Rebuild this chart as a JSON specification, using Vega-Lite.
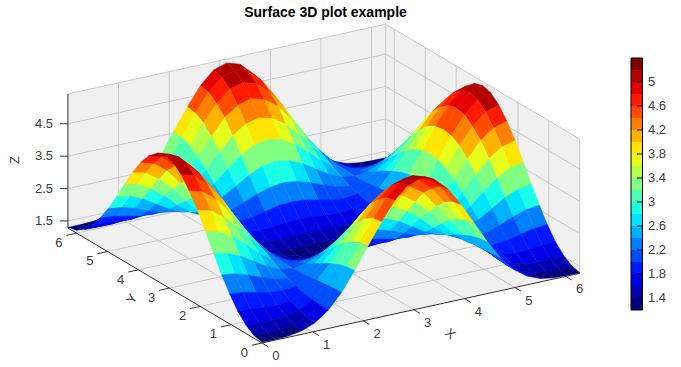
{"$schema":"https://vega.github.io/schema/vega-lite/v6.json","width":681,"height":347,"padding":{"left":0,"right":0,"top":20,"bottom":0},"autosize":"none","background":"white","title":{"text":"Surface 3D plot example","font":"Liberation Sans","fontSize":14,"fontWeight":"bold","color":"black","anchor":"middle","dx":-15,"offset":0},"config":{"view":{"stroke":null}},"datasets":{"walls":[{"p":"f","n":0,"x":0,"y":0,"z":1.28},{"p":"f","n":1,"x":6.28,"y":0,"z":1.28},{"p":"f","n":2,"x":6.28,"y":6.28,"z":1.28},{"p":"f","n":3,"x":0,"y":6.28,"z":1.28},{"p":"b","n":0,"x":0,"y":6.28,"z":1.28},{"p":"b","n":1,"x":6.28,"y":6.28,"z":1.28},{"p":"b","n":2,"x":6.28,"y":6.28,"z":5.42},{"p":"b","n":3,"x":0,"y":6.28,"z":5.42},{"p":"r","n":0,"x":6.28,"y":6.28,"z":1.28},{"p":"r","n":1,"x":6.28,"y":0,"z":1.28},{"p":"r","n":2,"x":6.28,"y":0,"z":5.42},{"p":"r","n":3,"x":6.28,"y":6.28,"z":5.42}],"seg":[{"k":"g","x":1,"y":0,"z":1.28,"x2":1,"y2":6.28,"z2":1.28},{"k":"g","x":2,"y":0,"z":1.28,"x2":2,"y2":6.28,"z2":1.28},{"k":"g","x":3,"y":0,"z":1.28,"x2":3,"y2":6.28,"z2":1.28},{"k":"g","x":4,"y":0,"z":1.28,"x2":4,"y2":6.28,"z2":1.28},{"k":"g","x":5,"y":0,"z":1.28,"x2":5,"y2":6.28,"z2":1.28},{"k":"g","x":6,"y":0,"z":1.28,"x2":6,"y2":6.28,"z2":1.28},{"k":"g","x":0,"y":1,"z":1.28,"x2":6.28,"y2":1,"z2":1.28},{"k":"g","x":0,"y":2,"z":1.28,"x2":6.28,"y2":2,"z2":1.28},{"k":"g","x":0,"y":3,"z":1.28,"x2":6.28,"y2":3,"z2":1.28},{"k":"g","x":0,"y":4,"z":1.28,"x2":6.28,"y2":4,"z2":1.28},{"k":"g","x":0,"y":5,"z":1.28,"x2":6.28,"y2":5,"z2":1.28},{"k":"g","x":0,"y":6,"z":1.28,"x2":6.28,"y2":6,"z2":1.28},{"k":"g","x":1,"y":6.28,"z":1.28,"x2":1,"y2":6.28,"z2":5.42},{"k":"g","x":2,"y":6.28,"z":1.28,"x2":2,"y2":6.28,"z2":5.42},{"k":"g","x":3,"y":6.28,"z":1.28,"x2":3,"y2":6.28,"z2":5.42},{"k":"g","x":4,"y":6.28,"z":1.28,"x2":4,"y2":6.28,"z2":5.42},{"k":"g","x":5,"y":6.28,"z":1.28,"x2":5,"y2":6.28,"z2":5.42},{"k":"g","x":6,"y":6.28,"z":1.28,"x2":6,"y2":6.28,"z2":5.42},{"k":"g","x":6.28,"y":1,"z":1.28,"x2":6.28,"y2":1,"z2":5.42},{"k":"g","x":6.28,"y":2,"z":1.28,"x2":6.28,"y2":2,"z2":5.42},{"k":"g","x":6.28,"y":3,"z":1.28,"x2":6.28,"y2":3,"z2":5.42},{"k":"g","x":6.28,"y":4,"z":1.28,"x2":6.28,"y2":4,"z2":5.42},{"k":"g","x":6.28,"y":5,"z":1.28,"x2":6.28,"y2":5,"z2":5.42},{"k":"g","x":6.28,"y":6,"z":1.28,"x2":6.28,"y2":6,"z2":5.42},{"k":"g","x":0,"y":6.28,"z":1.5,"x2":6.28,"y2":6.28,"z2":1.5},{"k":"g","x":0,"y":6.28,"z":2.5,"x2":6.28,"y2":6.28,"z2":2.5},{"k":"g","x":0,"y":6.28,"z":3.5,"x2":6.28,"y2":6.28,"z2":3.5},{"k":"g","x":0,"y":6.28,"z":4.5,"x2":6.28,"y2":6.28,"z2":4.5},{"k":"g","x":6.28,"y":0,"z":1.5,"x2":6.28,"y2":6.28,"z2":1.5},{"k":"g","x":6.28,"y":0,"z":2.5,"x2":6.28,"y2":6.28,"z2":2.5},{"k":"g","x":6.28,"y":0,"z":3.5,"x2":6.28,"y2":6.28,"z2":3.5},{"k":"g","x":6.28,"y":0,"z":4.5,"x2":6.28,"y2":6.28,"z2":4.5},{"k":"g","x":0,"y":6.28,"z":5.42,"x2":6.28,"y2":6.28,"z2":5.42},{"k":"g","x":6.28,"y":0,"z":5.42,"x2":6.28,"y2":6.28,"z2":5.42},{"k":"g","x":6.28,"y":6.28,"z":1.28,"x2":6.28,"y2":6.28,"z2":5.42},{"k":"g","x":6.28,"y":0,"z":1.28,"x2":6.28,"y2":0,"z2":5.42},{"k":"g","x":6.28,"y":0,"z":1.28,"x2":6.28,"y2":6.28,"z2":1.28},{"k":"g","x":0,"y":6.28,"z":1.28,"x2":6.28,"y2":6.28,"z2":1.28},{"k":"a","x":0,"y":0,"z":1.28,"x2":6.28,"y2":0,"z2":1.28},{"k":"a","x":0,"y":0,"z":1.28,"x2":0,"y2":6.28,"z2":1.28},{"k":"a","x":0,"y":6.28,"z":1.28,"x2":0,"y2":6.28,"z2":5.42},{"k":"a","x":0,"y":0,"z":1.28,"x2":0,"y2":-0.2,"z2":1.28},{"k":"a","x":1,"y":0,"z":1.28,"x2":1,"y2":-0.2,"z2":1.28},{"k":"a","x":2,"y":0,"z":1.28,"x2":2,"y2":-0.2,"z2":1.28},{"k":"a","x":3,"y":0,"z":1.28,"x2":3,"y2":-0.2,"z2":1.28},{"k":"a","x":4,"y":0,"z":1.28,"x2":4,"y2":-0.2,"z2":1.28},{"k":"a","x":5,"y":0,"z":1.28,"x2":5,"y2":-0.2,"z2":1.28},{"k":"a","x":6,"y":0,"z":1.28,"x2":6,"y2":-0.2,"z2":1.28},{"k":"a","x":0,"y":0,"z":1.28,"x2":-0.2,"y2":0,"z2":1.28},{"k":"a","x":0,"y":1,"z":1.28,"x2":-0.2,"y2":1,"z2":1.28},{"k":"a","x":0,"y":2,"z":1.28,"x2":-0.2,"y2":2,"z2":1.28},{"k":"a","x":0,"y":3,"z":1.28,"x2":-0.2,"y2":3,"z2":1.28},{"k":"a","x":0,"y":4,"z":1.28,"x2":-0.2,"y2":4,"z2":1.28},{"k":"a","x":0,"y":5,"z":1.28,"x2":-0.2,"y2":5,"z2":1.28},{"k":"a","x":0,"y":6,"z":1.28,"x2":-0.2,"y2":6,"z2":1.28},{"k":"a","x":0,"y":6.28,"z":1.5,"x2":-0.115,"y2":6.35,"z2":1.5},{"k":"a","x":0,"y":6.28,"z":2.5,"x2":-0.115,"y2":6.35,"z2":2.5},{"k":"a","x":0,"y":6.28,"z":3.5,"x2":-0.115,"y2":6.35,"z2":3.5},{"k":"a","x":0,"y":6.28,"z":4.5,"x2":-0.115,"y2":6.35,"z2":4.5}],"labels":[{"t":"0","x":0,"y":-0.45,"z":1.13},{"t":"1","x":1,"y":-0.45,"z":1.13},{"t":"2","x":2,"y":-0.45,"z":1.13},{"t":"3","x":3,"y":-0.45,"z":1.13},{"t":"4","x":4,"y":-0.45,"z":1.13},{"t":"5","x":5,"y":-0.45,"z":1.13},{"t":"6","x":6,"y":-0.45,"z":1.13},{"t":"0","x":-0.35,"y":0,"z":1.1},{"t":"1","x":-0.35,"y":1,"z":1.1},{"t":"2","x":-0.35,"y":2,"z":1.1},{"t":"3","x":-0.35,"y":3,"z":1.1},{"t":"4","x":-0.35,"y":4,"z":1.1},{"t":"5","x":-0.35,"y":5,"z":1.1},{"t":"6","x":-0.35,"y":6,"z":1.1},{"t":"1.5","x":-0.345,"y":6.49,"z":1.5},{"t":"2.5","x":-0.345,"y":6.49,"z":2.5},{"t":"3.5","x":-0.345,"y":6.49,"z":3.5},{"t":"4.5","x":-0.345,"y":6.49,"z":4.5}],"titles":[{"t":"X","x":2.93,"y":-1.29,"z":1.28,"a":40},{"t":"Y","x":-0.8,"y":2.89,"z":1.28,"a":-60},{"t":"Z","x":-1.05,"y":6.28,"z":3.74,"a":-90}],"bands":[{"lo":1.2,"hi":1.4,"z":1.3},{"lo":1.4,"hi":1.6,"z":1.5},{"lo":1.6,"hi":1.8,"z":1.7},{"lo":1.8,"hi":2.0,"z":1.9},{"lo":2.0,"hi":2.2,"z":2.1},{"lo":2.2,"hi":2.4,"z":2.3},{"lo":2.4,"hi":2.6,"z":2.5},{"lo":2.6,"hi":2.8,"z":2.7},{"lo":2.8,"hi":3.0,"z":2.9},{"lo":3.0,"hi":3.2,"z":3.1},{"lo":3.2,"hi":3.4,"z":3.3},{"lo":3.4,"hi":3.6,"z":3.5},{"lo":3.6,"hi":3.8,"z":3.7},{"lo":3.8,"hi":4.0,"z":3.9},{"lo":4.0,"hi":4.2,"z":4.1},{"lo":4.2,"hi":4.4,"z":4.3},{"lo":4.4,"hi":4.6,"z":4.5},{"lo":4.6,"hi":4.8,"z":4.7},{"lo":4.8,"hi":5.0,"z":4.9},{"lo":5.0,"hi":5.2,"z":5.1},{"lo":5.2,"hi":5.4,"z":5.3}],"barticks":[{"z":1.4,"t":"1.4"},{"z":1.8,"t":"1.8"},{"z":2.2,"t":"2.2"},{"z":2.6,"t":"2.6"},{"z":3,"t":"3"},{"z":3.4,"t":"3.4"},{"z":3.8,"t":"3.8"},{"z":4.2,"t":"4.2"},{"z":4.6,"t":"4.6"},{"z":5,"t":"5"}],"surf":[
{"x":6.28,"y":6.28,"z":1.3},{"x":6.28,"y":6.02,"z":1.36},{"x":6.28,"y":5.76,"z":1.53},{"x":6.28,"y":5.5,"z":1.81},{"x":6.28,"y":5.24,"z":2.19},{"x":6.28,"y":4.97,"z":2.64},{"x":6.28,"y":4.71,"z":3.15},{"x":6.28,"y":4.45,"z":3.68},{"x":6.28,"y":4.19,"z":4.19},{"x":6.28,"y":3.93,"z":4.64},{"x":6.28,"y":3.67,"z":4.99},{"x":6.28,"y":3.4,"z":5.22},{"x":6.28,"y":3.14,"z":5.3},{"x":6.28,"y":2.88,"z":5.22},{"x":6.28,"y":2.62,"z":4.99},{"x":6.28,"y":2.36,"z":4.64},{"x":6.28,"y":2.09,"z":4.19},{"x":6.28,"y":1.83,"z":3.68},{"x":6.28,"y":1.57,"z":3.15},{"x":6.28,"y":1.31,"z":2.64},{"x":6.28,"y":1.05,"z":2.19},{"x":6.28,"y":0.79,"z":1.81},{"x":6.28,"y":0.52,"z":1.53},{"x":6.28,"y":0.26,"z":1.36},{"x":6.28,"y":0,"z":1.3},
{"x":6.02,"y":6.28,"z":1.3},{"x":6.02,"y":6.02,"z":1.36},{"x":6.02,"y":5.76,"z":1.52},{"x":6.02,"y":5.5,"z":1.79},{"x":6.02,"y":5.24,"z":2.16},{"x":6.02,"y":4.97,"z":2.59},{"x":6.02,"y":4.71,"z":3.08},{"x":6.02,"y":4.45,"z":3.59},{"x":6.02,"y":4.19,"z":4.09},{"x":6.02,"y":3.93,"z":4.52},{"x":6.02,"y":3.67,"z":4.87},{"x":6.02,"y":3.4,"z":5.09},{"x":6.02,"y":3.14,"z":5.17},{"x":6.02,"y":2.88,"z":5.09},{"x":6.02,"y":2.62,"z":4.87},{"x":6.02,"y":2.36,"z":4.52},{"x":6.02,"y":2.09,"z":4.09},{"x":6.02,"y":1.83,"z":3.59},{"x":6.02,"y":1.57,"z":3.08},{"x":6.02,"y":1.31,"z":2.59},{"x":6.02,"y":1.05,"z":2.16},{"x":6.02,"y":0.79,"z":1.79},{"x":6.02,"y":0.52,"z":1.52},{"x":6.02,"y":0.26,"z":1.36},{"x":6.02,"y":0,"z":1.3},
{"x":5.76,"y":6.28,"z":1.32},{"x":5.76,"y":6.02,"z":1.37},{"x":5.76,"y":5.76,"z":1.51},{"x":5.76,"y":5.5,"z":1.75},{"x":5.76,"y":5.24,"z":2.07},{"x":5.76,"y":4.97,"z":2.46},{"x":5.76,"y":4.71,"z":2.9},{"x":5.76,"y":4.45,"z":3.36},{"x":5.76,"y":4.19,"z":3.81},{"x":5.76,"y":3.93,"z":4.22},{"x":5.76,"y":3.67,"z":4.51},{"x":5.76,"y":3.4,"z":4.72},{"x":5.76,"y":3.14,"z":4.78},{"x":5.76,"y":2.88,"z":4.72},{"x":5.76,"y":2.62,"z":4.51},{"x":5.76,"y":2.36,"z":4.22},{"x":5.76,"y":2.09,"z":3.81},{"x":5.76,"y":1.83,"z":3.36},{"x":5.76,"y":1.57,"z":2.9},{"x":5.76,"y":1.31,"z":2.46},{"x":5.76,"y":1.05,"z":2.07},{"x":5.76,"y":0.79,"z":1.75},{"x":5.76,"y":0.52,"z":1.51},{"x":5.76,"y":0.26,"z":1.37},{"x":5.76,"y":0,"z":1.32},
{"x":5.5,"y":6.28,"z":1.39},{"x":5.5,"y":6.02,"z":1.42},{"x":5.5,"y":5.76,"z":1.54},{"x":5.5,"y":5.5,"z":1.73},{"x":5.5,"y":5.24,"z":1.98},{"x":5.5,"y":4.97,"z":2.29},{"x":5.5,"y":4.71,"z":2.65},{"x":5.5,"y":4.45,"z":3.03},{"x":5.5,"y":4.19,"z":3.4},{"x":5.5,"y":3.93,"z":3.73},{"x":5.5,"y":3.67,"z":4.01},{"x":5.5,"y":3.4,"z":4.16},{"x":5.5,"y":3.14,"z":4.21},{"x":5.5,"y":2.88,"z":4.16},{"x":5.5,"y":2.62,"z":4.01},{"x":5.5,"y":2.36,"z":3.73},{"x":5.5,"y":2.09,"z":3.4},{"x":5.5,"y":1.83,"z":3.03},{"x":5.5,"y":1.57,"z":2.65},{"x":5.5,"y":1.31,"z":2.29},{"x":5.5,"y":1.05,"z":1.98},{"x":5.5,"y":0.79,"z":1.73},{"x":5.5,"y":0.52,"z":1.54},{"x":5.5,"y":0.26,"z":1.42},{"x":5.5,"y":0,"z":1.39},
{"x":5.24,"y":6.28,"z":1.55},{"x":5.24,"y":6.02,"z":1.57},{"x":5.24,"y":5.76,"z":1.65},{"x":5.24,"y":5.5,"z":1.77},{"x":5.24,"y":5.24,"z":1.94},{"x":5.24,"y":4.97,"z":2.15},{"x":5.24,"y":4.71,"z":2.4},{"x":5.24,"y":4.45,"z":2.67},{"x":5.24,"y":4.19,"z":2.94},{"x":5.24,"y":3.93,"z":3.19},{"x":5.24,"y":3.67,"z":3.38},{"x":5.24,"y":3.4,"z":3.51},{"x":5.24,"y":3.14,"z":3.55},{"x":5.24,"y":2.88,"z":3.51},{"x":5.24,"y":2.62,"z":3.38},{"x":5.24,"y":2.36,"z":3.19},{"x":5.24,"y":2.09,"z":2.94},{"x":5.24,"y":1.83,"z":2.67},{"x":5.24,"y":1.57,"z":2.4},{"x":5.24,"y":1.31,"z":2.15},{"x":5.24,"y":1.05,"z":1.94},{"x":5.24,"y":0.79,"z":1.77},{"x":5.24,"y":0.52,"z":1.65},{"x":5.24,"y":0.26,"z":1.57},{"x":5.24,"y":0,"z":1.55},
{"x":4.97,"y":6.28,"z":1.85},{"x":4.97,"y":6.02,"z":1.86},{"x":4.97,"y":5.76,"z":1.88},{"x":4.97,"y":5.5,"z":1.93},{"x":4.97,"y":5.24,"z":2},{"x":4.97,"y":4.97,"z":2.09},{"x":4.97,"y":4.71,"z":2.22},{"x":4.97,"y":4.45,"z":2.36},{"x":4.97,"y":4.19,"z":2.52},{"x":4.97,"y":3.93,"z":2.66},{"x":4.97,"y":3.67,"z":2.78},{"x":4.97,"y":3.4,"z":2.86},{"x":4.97,"y":3.14,"z":2.89},{"x":4.97,"y":2.88,"z":2.86},{"x":4.97,"y":2.62,"z":2.78},{"x":4.97,"y":2.36,"z":2.66},{"x":4.97,"y":2.09,"z":2.52},{"x":4.97,"y":1.83,"z":2.36},{"x":4.97,"y":1.57,"z":2.22},{"x":4.97,"y":1.31,"z":2.09},{"x":4.97,"y":1.05,"z":2},{"x":4.97,"y":0.79,"z":1.93},{"x":4.97,"y":0.52,"z":1.88},{"x":4.97,"y":0.26,"z":1.86},{"x":4.97,"y":0,"z":1.85},
{"x":4.71,"y":6.28,"z":2.3},{"x":4.71,"y":6.02,"z":2.29},{"x":4.71,"y":5.76,"z":2.26},{"x":4.71,"y":5.5,"z":2.23},{"x":4.71,"y":5.24,"z":2.19},{"x":4.71,"y":4.97,"z":2.16},{"x":4.71,"y":4.71,"z":2.15},{"x":4.71,"y":4.45,"z":2.16},{"x":4.71,"y":4.19,"z":2.19},{"x":4.71,"y":3.93,"z":2.23},{"x":4.71,"y":3.67,"z":2.26},{"x":4.71,"y":3.4,"z":2.29},{"x":4.71,"y":3.14,"z":2.3},{"x":4.71,"y":2.88,"z":2.29},{"x":4.71,"y":2.62,"z":2.26},{"x":4.71,"y":2.36,"z":2.23},{"x":4.71,"y":2.09,"z":2.19},{"x":4.71,"y":1.83,"z":2.16},{"x":4.71,"y":1.57,"z":2.15},{"x":4.71,"y":1.31,"z":2.16},{"x":4.71,"y":1.05,"z":2.19},{"x":4.71,"y":0.79,"z":2.23},{"x":4.71,"y":0.52,"z":2.26},{"x":4.71,"y":0.26,"z":2.29},{"x":4.71,"y":0,"z":2.3},
{"x":4.45,"y":6.28,"z":2.89},{"x":4.45,"y":6.02,"z":2.86},{"x":4.45,"y":5.76,"z":2.78},{"x":4.45,"y":5.5,"z":2.66},{"x":4.45,"y":5.24,"z":2.52},{"x":4.45,"y":4.97,"z":2.36},{"x":4.45,"y":4.71,"z":2.22},{"x":4.45,"y":4.45,"z":2.09},{"x":4.45,"y":4.19,"z":2},{"x":4.45,"y":3.93,"z":1.93},{"x":4.45,"y":3.67,"z":1.88},{"x":4.45,"y":3.4,"z":1.86},{"x":4.45,"y":3.14,"z":1.85},{"x":4.45,"y":2.88,"z":1.86},{"x":4.45,"y":2.62,"z":1.88},{"x":4.45,"y":2.36,"z":1.93},{"x":4.45,"y":2.09,"z":2},{"x":4.45,"y":1.83,"z":2.09},{"x":4.45,"y":1.57,"z":2.22},{"x":4.45,"y":1.31,"z":2.36},{"x":4.45,"y":1.05,"z":2.52},{"x":4.45,"y":0.79,"z":2.66},{"x":4.45,"y":0.52,"z":2.78},{"x":4.45,"y":0.26,"z":2.86},{"x":4.45,"y":0,"z":2.89},
{"x":4.19,"y":6.28,"z":3.55},{"x":4.19,"y":6.02,"z":3.51},{"x":4.19,"y":5.76,"z":3.38},{"x":4.19,"y":5.5,"z":3.19},{"x":4.19,"y":5.24,"z":2.94},{"x":4.19,"y":4.97,"z":2.67},{"x":4.19,"y":4.71,"z":2.4},{"x":4.19,"y":4.45,"z":2.15},{"x":4.19,"y":4.19,"z":1.94},{"x":4.19,"y":3.93,"z":1.77},{"x":4.19,"y":3.67,"z":1.65},{"x":4.19,"y":3.4,"z":1.57},{"x":4.19,"y":3.14,"z":1.55},{"x":4.19,"y":2.88,"z":1.57},{"x":4.19,"y":2.62,"z":1.65},{"x":4.19,"y":2.36,"z":1.77},{"x":4.19,"y":2.09,"z":1.94},{"x":4.19,"y":1.83,"z":2.15},{"x":4.19,"y":1.57,"z":2.4},{"x":4.19,"y":1.31,"z":2.67},{"x":4.19,"y":1.05,"z":2.94},{"x":4.19,"y":0.79,"z":3.19},{"x":4.19,"y":0.52,"z":3.38},{"x":4.19,"y":0.26,"z":3.51},{"x":4.19,"y":0,"z":3.55},
{"x":3.93,"y":6.28,"z":4.21},{"x":3.93,"y":6.02,"z":4.16},{"x":3.93,"y":5.76,"z":4.01},{"x":3.93,"y":5.5,"z":3.73},{"x":3.93,"y":5.24,"z":3.4},{"x":3.93,"y":4.97,"z":3.03},{"x":3.93,"y":4.71,"z":2.65},{"x":3.93,"y":4.45,"z":2.29},{"x":3.93,"y":4.19,"z":1.98},{"x":3.93,"y":3.93,"z":1.73},{"x":3.93,"y":3.67,"z":1.54},{"x":3.93,"y":3.4,"z":1.42},{"x":3.93,"y":3.14,"z":1.39},{"x":3.93,"y":2.88,"z":1.42},{"x":3.93,"y":2.62,"z":1.54},{"x":3.93,"y":2.36,"z":1.73},{"x":3.93,"y":2.09,"z":1.98},{"x":3.93,"y":1.83,"z":2.29},{"x":3.93,"y":1.57,"z":2.65},{"x":3.93,"y":1.31,"z":3.03},{"x":3.93,"y":1.05,"z":3.4},{"x":3.93,"y":0.79,"z":3.73},{"x":3.93,"y":0.52,"z":4.01},{"x":3.93,"y":0.26,"z":4.16},{"x":3.93,"y":0,"z":4.21},
{"x":3.67,"y":6.28,"z":4.78},{"x":3.67,"y":6.02,"z":4.72},{"x":3.67,"y":5.76,"z":4.51},{"x":3.67,"y":5.5,"z":4.23},{"x":3.67,"y":5.24,"z":3.81},{"x":3.67,"y":4.97,"z":3.36},{"x":3.67,"y":4.71,"z":2.9},{"x":3.67,"y":4.45,"z":2.46},{"x":3.67,"y":4.19,"z":2.07},{"x":3.67,"y":3.93,"z":1.75},{"x":3.67,"y":3.67,"z":1.51},{"x":3.67,"y":3.4,"z":1.37},{"x":3.67,"y":3.14,"z":1.32},{"x":3.67,"y":2.88,"z":1.37},{"x":3.67,"y":2.62,"z":1.51},{"x":3.67,"y":2.36,"z":1.75},{"x":3.67,"y":2.09,"z":2.07},{"x":3.67,"y":1.83,"z":2.46},{"x":3.67,"y":1.57,"z":2.9},{"x":3.67,"y":1.31,"z":3.36},{"x":3.67,"y":1.05,"z":3.81},{"x":3.67,"y":0.79,"z":4.23},{"x":3.67,"y":0.52,"z":4.51},{"x":3.67,"y":0.26,"z":4.72},{"x":3.67,"y":0,"z":4.78},
{"x":3.4,"y":6.28,"z":5.17},{"x":3.4,"y":6.02,"z":5.09},{"x":3.4,"y":5.76,"z":4.87},{"x":3.4,"y":5.5,"z":4.52},{"x":3.4,"y":5.24,"z":4.09},{"x":3.4,"y":4.97,"z":3.59},{"x":3.4,"y":4.71,"z":3.08},{"x":3.4,"y":4.45,"z":2.59},{"x":3.4,"y":4.19,"z":2.16},{"x":3.4,"y":3.93,"z":1.79},{"x":3.4,"y":3.67,"z":1.52},{"x":3.4,"y":3.4,"z":1.36},{"x":3.4,"y":3.14,"z":1.3},{"x":3.4,"y":2.88,"z":1.36},{"x":3.4,"y":2.62,"z":1.52},{"x":3.4,"y":2.36,"z":1.79},{"x":3.4,"y":2.09,"z":2.16},{"x":3.4,"y":1.83,"z":2.59},{"x":3.4,"y":1.57,"z":3.08},{"x":3.4,"y":1.31,"z":3.59},{"x":3.4,"y":1.05,"z":4.09},{"x":3.4,"y":0.79,"z":4.52},{"x":3.4,"y":0.52,"z":4.87},{"x":3.4,"y":0.26,"z":5.09},{"x":3.4,"y":0,"z":5.17},
{"x":3.14,"y":6.28,"z":5.3},{"x":3.14,"y":6.02,"z":5.22},{"x":3.14,"y":5.76,"z":4.99},{"x":3.14,"y":5.5,"z":4.64},{"x":3.14,"y":5.24,"z":4.19},{"x":3.14,"y":4.97,"z":3.68},{"x":3.14,"y":4.71,"z":3.15},{"x":3.14,"y":4.45,"z":2.64},{"x":3.14,"y":4.19,"z":2.19},{"x":3.14,"y":3.93,"z":1.81},{"x":3.14,"y":3.67,"z":1.53},{"x":3.14,"y":3.4,"z":1.36},{"x":3.14,"y":3.14,"z":1.3},{"x":3.14,"y":2.88,"z":1.36},{"x":3.14,"y":2.62,"z":1.53},{"x":3.14,"y":2.36,"z":1.81},{"x":3.14,"y":2.09,"z":2.19},{"x":3.14,"y":1.83,"z":2.64},{"x":3.14,"y":1.57,"z":3.15},{"x":3.14,"y":1.31,"z":3.68},{"x":3.14,"y":1.05,"z":4.19},{"x":3.14,"y":0.79,"z":4.64},{"x":3.14,"y":0.52,"z":4.99},{"x":3.14,"y":0.26,"z":5.22},{"x":3.14,"y":0,"z":5.3},
{"x":2.88,"y":6.28,"z":5.17},{"x":2.88,"y":6.02,"z":5.09},{"x":2.88,"y":5.76,"z":4.87},{"x":2.88,"y":5.5,"z":4.52},{"x":2.88,"y":5.24,"z":4.09},{"x":2.88,"y":4.97,"z":3.59},{"x":2.88,"y":4.71,"z":3.08},{"x":2.88,"y":4.45,"z":2.59},{"x":2.88,"y":4.19,"z":2.16},{"x":2.88,"y":3.93,"z":1.79},{"x":2.88,"y":3.67,"z":1.52},{"x":2.88,"y":3.4,"z":1.36},{"x":2.88,"y":3.14,"z":1.3},{"x":2.88,"y":2.88,"z":1.36},{"x":2.88,"y":2.62,"z":1.52},{"x":2.88,"y":2.36,"z":1.79},{"x":2.88,"y":2.09,"z":2.16},{"x":2.88,"y":1.83,"z":2.59},{"x":2.88,"y":1.57,"z":3.08},{"x":2.88,"y":1.31,"z":3.59},{"x":2.88,"y":1.05,"z":4.09},{"x":2.88,"y":0.79,"z":4.52},{"x":2.88,"y":0.52,"z":4.87},{"x":2.88,"y":0.26,"z":5.09},{"x":2.88,"y":0,"z":5.17},
{"x":2.62,"y":6.28,"z":4.78},{"x":2.62,"y":6.02,"z":4.72},{"x":2.62,"y":5.76,"z":4.51},{"x":2.62,"y":5.5,"z":4.23},{"x":2.62,"y":5.24,"z":3.81},{"x":2.62,"y":4.97,"z":3.36},{"x":2.62,"y":4.71,"z":2.9},{"x":2.62,"y":4.45,"z":2.46},{"x":2.62,"y":4.19,"z":2.07},{"x":2.62,"y":3.93,"z":1.75},{"x":2.62,"y":3.67,"z":1.51},{"x":2.62,"y":3.4,"z":1.37},{"x":2.62,"y":3.14,"z":1.32},{"x":2.62,"y":2.88,"z":1.37},{"x":2.62,"y":2.62,"z":1.51},{"x":2.62,"y":2.36,"z":1.75},{"x":2.62,"y":2.09,"z":2.07},{"x":2.62,"y":1.83,"z":2.46},{"x":2.62,"y":1.57,"z":2.9},{"x":2.62,"y":1.31,"z":3.36},{"x":2.62,"y":1.05,"z":3.81},{"x":2.62,"y":0.79,"z":4.23},{"x":2.62,"y":0.52,"z":4.51},{"x":2.62,"y":0.26,"z":4.72},{"x":2.62,"y":0,"z":4.78},
{"x":2.36,"y":6.28,"z":4.21},{"x":2.36,"y":6.02,"z":4.16},{"x":2.36,"y":5.76,"z":4.01},{"x":2.36,"y":5.5,"z":3.73},{"x":2.36,"y":5.24,"z":3.4},{"x":2.36,"y":4.97,"z":3.03},{"x":2.36,"y":4.71,"z":2.65},{"x":2.36,"y":4.45,"z":2.29},{"x":2.36,"y":4.19,"z":1.98},{"x":2.36,"y":3.93,"z":1.73},{"x":2.36,"y":3.67,"z":1.54},{"x":2.36,"y":3.4,"z":1.42},{"x":2.36,"y":3.14,"z":1.39},{"x":2.36,"y":2.88,"z":1.42},{"x":2.36,"y":2.62,"z":1.54},{"x":2.36,"y":2.36,"z":1.73},{"x":2.36,"y":2.09,"z":1.98},{"x":2.36,"y":1.83,"z":2.29},{"x":2.36,"y":1.57,"z":2.65},{"x":2.36,"y":1.31,"z":3.03},{"x":2.36,"y":1.05,"z":3.4},{"x":2.36,"y":0.79,"z":3.73},{"x":2.36,"y":0.52,"z":4.01},{"x":2.36,"y":0.26,"z":4.16},{"x":2.36,"y":0,"z":4.21},
{"x":2.09,"y":6.28,"z":3.55},{"x":2.09,"y":6.02,"z":3.51},{"x":2.09,"y":5.76,"z":3.38},{"x":2.09,"y":5.5,"z":3.19},{"x":2.09,"y":5.24,"z":2.94},{"x":2.09,"y":4.97,"z":2.67},{"x":2.09,"y":4.71,"z":2.4},{"x":2.09,"y":4.45,"z":2.15},{"x":2.09,"y":4.19,"z":1.94},{"x":2.09,"y":3.93,"z":1.77},{"x":2.09,"y":3.67,"z":1.65},{"x":2.09,"y":3.4,"z":1.57},{"x":2.09,"y":3.14,"z":1.55},{"x":2.09,"y":2.88,"z":1.57},{"x":2.09,"y":2.62,"z":1.65},{"x":2.09,"y":2.36,"z":1.77},{"x":2.09,"y":2.09,"z":1.94},{"x":2.09,"y":1.83,"z":2.15},{"x":2.09,"y":1.57,"z":2.4},{"x":2.09,"y":1.31,"z":2.67},{"x":2.09,"y":1.05,"z":2.94},{"x":2.09,"y":0.79,"z":3.19},{"x":2.09,"y":0.52,"z":3.38},{"x":2.09,"y":0.26,"z":3.51},{"x":2.09,"y":0,"z":3.55},
{"x":1.83,"y":6.28,"z":2.89},{"x":1.83,"y":6.02,"z":2.86},{"x":1.83,"y":5.76,"z":2.78},{"x":1.83,"y":5.5,"z":2.66},{"x":1.83,"y":5.24,"z":2.52},{"x":1.83,"y":4.97,"z":2.36},{"x":1.83,"y":4.71,"z":2.22},{"x":1.83,"y":4.45,"z":2.09},{"x":1.83,"y":4.19,"z":2},{"x":1.83,"y":3.93,"z":1.93},{"x":1.83,"y":3.67,"z":1.88},{"x":1.83,"y":3.4,"z":1.86},{"x":1.83,"y":3.14,"z":1.85},{"x":1.83,"y":2.88,"z":1.86},{"x":1.83,"y":2.62,"z":1.88},{"x":1.83,"y":2.36,"z":1.93},{"x":1.83,"y":2.09,"z":2},{"x":1.83,"y":1.83,"z":2.09},{"x":1.83,"y":1.57,"z":2.22},{"x":1.83,"y":1.31,"z":2.36},{"x":1.83,"y":1.05,"z":2.52},{"x":1.83,"y":0.79,"z":2.66},{"x":1.83,"y":0.52,"z":2.78},{"x":1.83,"y":0.26,"z":2.86},{"x":1.83,"y":0,"z":2.89},
{"x":1.57,"y":6.28,"z":2.3},{"x":1.57,"y":6.02,"z":2.29},{"x":1.57,"y":5.76,"z":2.26},{"x":1.57,"y":5.5,"z":2.23},{"x":1.57,"y":5.24,"z":2.19},{"x":1.57,"y":4.97,"z":2.16},{"x":1.57,"y":4.71,"z":2.15},{"x":1.57,"y":4.45,"z":2.16},{"x":1.57,"y":4.19,"z":2.19},{"x":1.57,"y":3.93,"z":2.23},{"x":1.57,"y":3.67,"z":2.26},{"x":1.57,"y":3.4,"z":2.29},{"x":1.57,"y":3.14,"z":2.3},{"x":1.57,"y":2.88,"z":2.29},{"x":1.57,"y":2.62,"z":2.26},{"x":1.57,"y":2.36,"z":2.23},{"x":1.57,"y":2.09,"z":2.19},{"x":1.57,"y":1.83,"z":2.16},{"x":1.57,"y":1.57,"z":2.15},{"x":1.57,"y":1.31,"z":2.16},{"x":1.57,"y":1.05,"z":2.19},{"x":1.57,"y":0.79,"z":2.23},{"x":1.57,"y":0.52,"z":2.26},{"x":1.57,"y":0.26,"z":2.29},{"x":1.57,"y":0,"z":2.3},
{"x":1.31,"y":6.28,"z":1.85},{"x":1.31,"y":6.02,"z":1.86},{"x":1.31,"y":5.76,"z":1.88},{"x":1.31,"y":5.5,"z":1.93},{"x":1.31,"y":5.24,"z":2},{"x":1.31,"y":4.97,"z":2.09},{"x":1.31,"y":4.71,"z":2.22},{"x":1.31,"y":4.45,"z":2.36},{"x":1.31,"y":4.19,"z":2.52},{"x":1.31,"y":3.93,"z":2.66},{"x":1.31,"y":3.67,"z":2.78},{"x":1.31,"y":3.4,"z":2.86},{"x":1.31,"y":3.14,"z":2.89},{"x":1.31,"y":2.88,"z":2.86},{"x":1.31,"y":2.62,"z":2.78},{"x":1.31,"y":2.36,"z":2.66},{"x":1.31,"y":2.09,"z":2.52},{"x":1.31,"y":1.83,"z":2.36},{"x":1.31,"y":1.57,"z":2.22},{"x":1.31,"y":1.31,"z":2.09},{"x":1.31,"y":1.05,"z":2},{"x":1.31,"y":0.79,"z":1.93},{"x":1.31,"y":0.52,"z":1.88},{"x":1.31,"y":0.26,"z":1.86},{"x":1.31,"y":0,"z":1.85},
{"x":1.05,"y":6.28,"z":1.55},{"x":1.05,"y":6.02,"z":1.57},{"x":1.05,"y":5.76,"z":1.65},{"x":1.05,"y":5.5,"z":1.77},{"x":1.05,"y":5.24,"z":1.94},{"x":1.05,"y":4.97,"z":2.15},{"x":1.05,"y":4.71,"z":2.4},{"x":1.05,"y":4.45,"z":2.67},{"x":1.05,"y":4.19,"z":2.94},{"x":1.05,"y":3.93,"z":3.19},{"x":1.05,"y":3.67,"z":3.38},{"x":1.05,"y":3.4,"z":3.51},{"x":1.05,"y":3.14,"z":3.55},{"x":1.05,"y":2.88,"z":3.51},{"x":1.05,"y":2.62,"z":3.38},{"x":1.05,"y":2.36,"z":3.19},{"x":1.05,"y":2.09,"z":2.94},{"x":1.05,"y":1.83,"z":2.67},{"x":1.05,"y":1.57,"z":2.4},{"x":1.05,"y":1.31,"z":2.15},{"x":1.05,"y":1.05,"z":1.94},{"x":1.05,"y":0.79,"z":1.77},{"x":1.05,"y":0.52,"z":1.65},{"x":1.05,"y":0.26,"z":1.57},{"x":1.05,"y":0,"z":1.55},
{"x":0.79,"y":6.28,"z":1.39},{"x":0.79,"y":6.02,"z":1.42},{"x":0.79,"y":5.76,"z":1.54},{"x":0.79,"y":5.5,"z":1.73},{"x":0.79,"y":5.24,"z":1.98},{"x":0.79,"y":4.97,"z":2.29},{"x":0.79,"y":4.71,"z":2.65},{"x":0.79,"y":4.45,"z":3.03},{"x":0.79,"y":4.19,"z":3.4},{"x":0.79,"y":3.93,"z":3.73},{"x":0.79,"y":3.67,"z":4.01},{"x":0.79,"y":3.4,"z":4.16},{"x":0.79,"y":3.14,"z":4.21},{"x":0.79,"y":2.88,"z":4.16},{"x":0.79,"y":2.62,"z":4.01},{"x":0.79,"y":2.36,"z":3.73},{"x":0.79,"y":2.09,"z":3.4},{"x":0.79,"y":1.83,"z":3.03},{"x":0.79,"y":1.57,"z":2.65},{"x":0.79,"y":1.31,"z":2.29},{"x":0.79,"y":1.05,"z":1.98},{"x":0.79,"y":0.79,"z":1.73},{"x":0.79,"y":0.52,"z":1.54},{"x":0.79,"y":0.26,"z":1.42},{"x":0.79,"y":0,"z":1.39},
{"x":0.52,"y":6.28,"z":1.32},{"x":0.52,"y":6.02,"z":1.37},{"x":0.52,"y":5.76,"z":1.51},{"x":0.52,"y":5.5,"z":1.75},{"x":0.52,"y":5.24,"z":2.07},{"x":0.52,"y":4.97,"z":2.46},{"x":0.52,"y":4.71,"z":2.9},{"x":0.52,"y":4.45,"z":3.36},{"x":0.52,"y":4.19,"z":3.81},{"x":0.52,"y":3.93,"z":4.22},{"x":0.52,"y":3.67,"z":4.51},{"x":0.52,"y":3.4,"z":4.72},{"x":0.52,"y":3.14,"z":4.78},{"x":0.52,"y":2.88,"z":4.72},{"x":0.52,"y":2.62,"z":4.51},{"x":0.52,"y":2.36,"z":4.22},{"x":0.52,"y":2.09,"z":3.81},{"x":0.52,"y":1.83,"z":3.36},{"x":0.52,"y":1.57,"z":2.9},{"x":0.52,"y":1.31,"z":2.46},{"x":0.52,"y":1.05,"z":2.07},{"x":0.52,"y":0.79,"z":1.75},{"x":0.52,"y":0.52,"z":1.51},{"x":0.52,"y":0.26,"z":1.37},{"x":0.52,"y":0,"z":1.32},
{"x":0.26,"y":6.28,"z":1.3},{"x":0.26,"y":6.02,"z":1.36},{"x":0.26,"y":5.76,"z":1.52},{"x":0.26,"y":5.5,"z":1.79},{"x":0.26,"y":5.24,"z":2.16},{"x":0.26,"y":4.97,"z":2.59},{"x":0.26,"y":4.71,"z":3.08},{"x":0.26,"y":4.45,"z":3.59},{"x":0.26,"y":4.19,"z":4.09},{"x":0.26,"y":3.93,"z":4.52},{"x":0.26,"y":3.67,"z":4.87},{"x":0.26,"y":3.4,"z":5.09},{"x":0.26,"y":3.14,"z":5.17},{"x":0.26,"y":2.88,"z":5.09},{"x":0.26,"y":2.62,"z":4.87},{"x":0.26,"y":2.36,"z":4.52},{"x":0.26,"y":2.09,"z":4.09},{"x":0.26,"y":1.83,"z":3.59},{"x":0.26,"y":1.57,"z":3.08},{"x":0.26,"y":1.31,"z":2.59},{"x":0.26,"y":1.05,"z":2.16},{"x":0.26,"y":0.79,"z":1.79},{"x":0.26,"y":0.52,"z":1.52},{"x":0.26,"y":0.26,"z":1.36},{"x":0.26,"y":0,"z":1.3},
{"x":0,"y":6.28,"z":1.3},{"x":0,"y":6.02,"z":1.36},{"x":0,"y":5.76,"z":1.53},{"x":0,"y":5.5,"z":1.81},{"x":0,"y":5.24,"z":2.19},{"x":0,"y":4.97,"z":2.64},{"x":0,"y":4.71,"z":3.15},{"x":0,"y":4.45,"z":3.68},{"x":0,"y":4.19,"z":4.19},{"x":0,"y":3.93,"z":4.64},{"x":0,"y":3.67,"z":4.99},{"x":0,"y":3.4,"z":5.22},{"x":0,"y":3.14,"z":5.3},{"x":0,"y":2.88,"z":5.22},{"x":0,"y":2.62,"z":4.99},{"x":0,"y":2.36,"z":4.64},{"x":0,"y":2.09,"z":4.19},{"x":0,"y":1.83,"z":3.68},{"x":0,"y":1.57,"z":3.15},{"x":0,"y":1.31,"z":2.64},{"x":0,"y":1.05,"z":2.19},{"x":0,"y":0.79,"z":1.81},{"x":0,"y":0.52,"z":1.53},{"x":0,"y":0.26,"z":1.36},{"x":0,"y":0,"z":1.3}
]},"layer":[{"data":{"name":"walls"},"transform":[{"calculate":"262+50.6*datum.x-30.9*datum.y","as":"px"},{"calculate":"343-11.1*datum.x-18.3*datum.y-32.4*(datum.z-1.28)","as":"py"}],"mark":{"type":"line","filled":true,"fill":"#f0f0f0","stroke":null},"encoding":{"x":{"field":"px","type":"quantitative","scale":{"domain":[0,681]},"axis":null},"y":{"field":"py","type":"quantitative","scale":{"domain":[367,20]},"axis":null},"detail":{"field":"p"},"order":{"field":"n","type":"quantitative"}}},{"data":{"name":"seg"},"transform":[{"filter":"datum.k=='g'"},{"calculate":"262+50.6*datum.x-30.9*datum.y","as":"px"},{"calculate":"343-11.1*datum.x-18.3*datum.y-32.4*(datum.z-1.28)","as":"py"},{"calculate":"262+50.6*datum.x2-30.9*datum.y2","as":"px2"},{"calculate":"343-11.1*datum.x2-18.3*datum.y2-32.4*(datum.z2-1.28)","as":"py2"}],"mark":{"type":"rule","color":"#c8c8c8","strokeWidth":1},"encoding":{"x":{"field":"px","type":"quantitative","scale":{"domain":[0,681]},"axis":null},"y":{"field":"py","type":"quantitative","scale":{"domain":[367,20]},"axis":null},"x2":{"field":"px2"},"y2":{"field":"py2"}}},{"data":{"name":"surf"},"transform":[{"calculate":"round(datum.x/0.2618)","as":"i"},{"calculate":"round(datum.y/0.2618)","as":"j"},{"calculate":"[0,1,2,3]","as":"corner"},{"flatten":["corner"]},{"calculate":"datum.i-(datum.corner==1||datum.corner==2?1:0)","as":"ci"},{"calculate":"datum.j-(datum.corner>=2?1:0)","as":"cj"},{"filter":"datum.ci>=0&&datum.cj>=0&&datum.ci<24&&datum.cj<24"},{"calculate":"datum.ci*100+datum.cj","as":"cell"},{"joinaggregate":[{"op":"mean","field":"z","as":"zc"}],"groupby":["cell"]},{"calculate":"262+50.6*datum.x-30.9*datum.y","as":"px"},{"calculate":"343-11.1*datum.x-18.3*datum.y-32.4*(datum.z-1.28)","as":"py"}],"mark":{"type":"line","filled":true,"strokeWidth":0.6},"encoding":{"x":{"field":"px","type":"quantitative","scale":{"domain":[0,681]},"axis":null},"y":{"field":"py","type":"quantitative","scale":{"domain":[367,20]},"axis":null},"detail":{"field":"cell"},"order":{"field":"corner","type":"quantitative"},"fill":{"field":"zc","type":"quantitative","legend":null,"scale":{"type":"quantize","domain":[1.2,5.4],"range":["#00007f","#0000b2","#0000e5","#001aff","#004cff","#0080ff","#00b2ff","#00e5ff","#1affe5","#4cffb2","#80ff80","#b2ff4c","#e5ff1a","#ffe500","#ffb200","#ff8000","#ff4c00","#ff1a00","#e50000","#b20000","#7f0000"]}},"stroke":{"field":"zc","type":"quantitative","legend":null,"scale":{"type":"quantize","domain":[1.2,5.4],"range":["#00007f","#0000b2","#0000e5","#001aff","#004cff","#0080ff","#00b2ff","#00e5ff","#1affe5","#4cffb2","#80ff80","#b2ff4c","#e5ff1a","#ffe500","#ffb200","#ff8000","#ff4c00","#ff1a00","#e50000","#b20000","#7f0000"]}}}},{"data":{"name":"seg"},"transform":[{"filter":"datum.k=='a'"},{"calculate":"262+50.6*datum.x-30.9*datum.y","as":"px"},{"calculate":"343-11.1*datum.x-18.3*datum.y-32.4*(datum.z-1.28)","as":"py"},{"calculate":"262+50.6*datum.x2-30.9*datum.y2","as":"px2"},{"calculate":"343-11.1*datum.x2-18.3*datum.y2-32.4*(datum.z2-1.28)","as":"py2"}],"mark":{"type":"rule","color":"#333333","strokeWidth":1},"encoding":{"x":{"field":"px","type":"quantitative","scale":{"domain":[0,681]},"axis":null},"y":{"field":"py","type":"quantitative","scale":{"domain":[367,20]},"axis":null},"x2":{"field":"px2"},"y2":{"field":"py2"}}},{"data":{"name":"labels"},"transform":[{"calculate":"262+50.6*datum.x-30.9*datum.y","as":"px"},{"calculate":"343-11.1*datum.x-18.3*datum.y-32.4*(datum.z-1.28)","as":"py"}],"mark":{"type":"text","font":"Liberation Sans","fontSize":13,"color":"#404040","align":"center","baseline":"middle"},"encoding":{"x":{"field":"px","type":"quantitative","scale":{"domain":[0,681]},"axis":null},"y":{"field":"py","type":"quantitative","scale":{"domain":[367,20]},"axis":null},"text":{"field":"t"}}},{"data":{"name":"titles"},"transform":[{"calculate":"262+50.6*datum.x-30.9*datum.y","as":"px"},{"calculate":"343-11.1*datum.x-18.3*datum.y-32.4*(datum.z-1.28)","as":"py"}],"mark":{"type":"text","font":"Liberation Sans","fontSize":13,"color":"#404040","align":"center","baseline":"middle"},"encoding":{"x":{"field":"px","type":"quantitative","scale":{"domain":[0,681]},"axis":null},"y":{"field":"py","type":"quantitative","scale":{"domain":[367,20]},"axis":null},"text":{"field":"t"},"angle":{"field":"a","type":"quantitative","scale":null}}},{"data":{"name":"bands"},"transform":[{"calculate":"298-60*(datum.lo-1.4)","as":"y0"},{"calculate":"298-60*(datum.hi-1.4)","as":"y1"}],"mark":{"type":"rect"},"encoding":{"x":{"datum":631,"type":"quantitative","scale":{"domain":[0,681]},"axis":null},"x2":{"datum":642.5},"y":{"field":"y0","type":"quantitative","scale":{"domain":[367,20]},"axis":null},"y2":{"field":"y1"},"fill":{"field":"z","type":"quantitative","legend":null,"scale":{"type":"quantize","domain":[1.2,5.4],"range":["#00007f","#0000b2","#0000e5","#001aff","#004cff","#0080ff","#00b2ff","#00e5ff","#1affe5","#4cffb2","#80ff80","#b2ff4c","#e5ff1a","#ffe500","#ffb200","#ff8000","#ff4c00","#ff1a00","#e50000","#b20000","#7f0000"]}}}},{"data":{"name":"bands"},"transform":[{"aggregate":[{"op":"min","field":"lo","as":"a"},{"op":"max","field":"hi","as":"b"}]},{"calculate":"298-60*(datum.a-1.4)","as":"y0"},{"calculate":"298-60*(datum.b-1.4)","as":"y1"}],"mark":{"type":"rect","fillOpacity":0,"stroke":"black","strokeWidth":1},"encoding":{"x":{"datum":631,"type":"quantitative","scale":{"domain":[0,681]},"axis":null},"x2":{"datum":642.5},"y":{"field":"y0","type":"quantitative","scale":{"domain":[367,20]},"axis":null},"y2":{"field":"y1"}}},{"data":{"name":"barticks"},"transform":[{"calculate":"298-60*(datum.z-1.4)","as":"py"}],"mark":{"type":"rule","color":"black","strokeWidth":1},"encoding":{"x":{"datum":637,"type":"quantitative","scale":{"domain":[0,681]},"axis":null},"x2":{"datum":642.5},"y":{"field":"py","type":"quantitative","scale":{"domain":[367,20]},"axis":null}}},{"data":{"name":"barticks"},"transform":[{"calculate":"298-60*(datum.z-1.4)","as":"py"}],"mark":{"type":"text","font":"Liberation Sans","fontSize":13,"color":"#404040","align":"left","baseline":"middle"},"encoding":{"x":{"datum":648,"type":"quantitative","scale":{"domain":[0,681]},"axis":null},"y":{"field":"py","type":"quantitative","scale":{"domain":[367,20]},"axis":null},"text":{"field":"t"}}}]}
